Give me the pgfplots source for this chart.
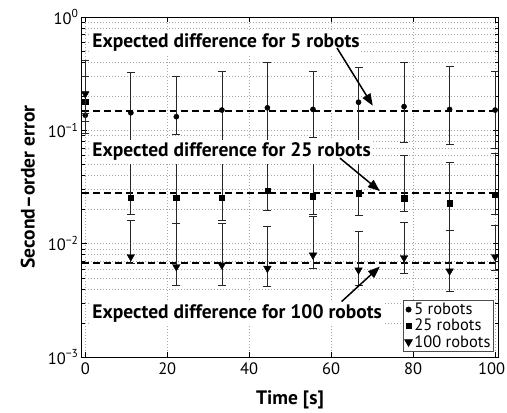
\documentclass[border=0pt]{standalone}
\usepackage{fontspec}
\setmainfont{PT Sans}
\usepackage{pgfplots}
\usepackage{pgfplotstable}
\pgfplotsset{compat=1.18}
\usetikzlibrary{arrows.meta}

\pgfplotstableread{
x y lo hi
0 0.136 0.095 0.297
11.11 0.143 0.065 0.325
22.22 0.132 0.092 0.302
33.33 0.151 0.065 0.334
44.44 0.158 0.065 0.395
55.56 0.153 0.086 0.329
66.67 0.177 0.065 0.357
77.78 0.162 0.078 0.395
88.89 0.153 0.0757 0.364
100 0.151 0.0694 0.334
}\tfive

\pgfplotstableread{
x y lo hi
0 0.180 0.120 0.417
11.11 0.0255 0.0183 0.070
22.22 0.0255 0.0151 0.070
33.33 0.0255 0.0162 0.070
44.44 0.0292 0.0198 0.070
55.56 0.0263 0.0182 0.070
66.67 0.0278 0.0179 0.070
77.78 0.0251 0.0191 0.0605
88.89 0.0227 0.0132 0.0518
100 0.0272 0.0182 0.0627
}\ttwentyfive

\pgfplotstableread{
x y lo hi
0 0.210 0.140 0.300
11.11 0.00767 0.00671 0.0160
22.22 0.00626 0.00426 0.0151
33.33 0.00648 0.00432 0.0151
44.44 0.00606 0.00417 0.0141
55.56 0.00794 0.00606 0.0173
66.67 0.00586 0.00432 0.0129
77.78 0.00752 0.00547 0.0154
88.89 0.00574 0.00382 0.0132
100 0.00767 0.00580 0.0146
}\thundred

\begin{document}
\begin{tikzpicture}
\begin{axis}[name=ax, scale only axis, width=416pt, height=340pt,
  xmin=-0.8, xmax=100.7, ymode=log, ymin=1e-3, ymax=1,
  xtick={0,20,...,100},
  xticklabels={0,20,40,60,80,{\hspace*{-7pt}100}},
  ytick={1e-3,1e-2,1e-1,1},
  yticklabels={10\textsuperscript{−3},10\textsuperscript{−2},10\textsuperscript{−1},10\textsuperscript{0}},
  /pgf/number format/assume math mode=true,
  grid=both,
  major grid style={gray!70, dash pattern=on 0.8pt off 2.2pt, line width=0.5pt},
  minor grid style={gray!70, dash pattern=on 0.8pt off 2.2pt, line width=0.5pt},
  tick align=inside, major tick length=5pt, minor tick length=3pt,
  every tick/.style={black, line width=0.5pt},
  axis line style={black, line width=1pt},
  tick label style={font=\fontsize{16.5}{20}\selectfont},
  xticklabel style={yshift=-2pt},
  label style={font=\fontsize{19.5}{23}\selectfont\bfseries},
  xlabel={Time [s]}, ylabel={Second--order error},
  xlabel style={yshift=-9pt},
  ylabel style={yshift=6pt},
  clip mode=individual,
  legend style={at={(0.99,0.015)}, anchor=south east, font=\fontsize{16.5}{19}\selectfont,
    draw=black!70, line width=0.7pt, inner sep=1pt, row sep=-1pt, legend cell align=left},
  legend image code/.code={\draw[#1] plot coordinates {(0.08cm,0cm)};},
  error bars/error bar style={black!85, line width=0.7pt},
  error bars/error mark options={rotate=90, mark size=4pt, line width=0.7pt, black!85},
]
% expected differences (dashed)
\addplot[forget plot, black, line width=1.7pt, dash pattern=on 7pt off 4pt] coordinates {(-0.8,0.149) (100.7,0.149)};
\addplot[forget plot, black, line width=1.7pt, dash pattern=on 7pt off 4pt] coordinates {(-0.8,0.0278) (100.7,0.0278)};
\addplot[forget plot, black, line width=1.7pt, dash pattern=on 7pt off 4pt] coordinates {(-0.8,0.00679) (100.7,0.00679)};
% series
\addplot[only marks, mark=*, mark size=2.6pt, black,
  error bars/.cd, y dir=both, y explicit]
  table[x=x, y=y, y error plus expr=\thisrow{hi}-\thisrow{y}, y error minus expr=\thisrow{y}-\thisrow{lo}] {\tfive};
\addlegendentry{5 robots}
\addplot[only marks, mark=square*, mark size=2.7pt, black,
  error bars/.cd, y dir=both, y explicit]
  table[x=x, y=y, y error plus expr=\thisrow{hi}-\thisrow{y}, y error minus expr=\thisrow{y}-\thisrow{lo}] {\ttwentyfive};
\addlegendentry{25 robots}
\addplot[only marks, mark=triangle*, mark size=4.4pt, mark options={rotate=180}, black,
  error bars/.cd, y dir=both, y explicit]
  table[x=x, y=y, y error plus expr=\thisrow{hi}-\thisrow{y}, y error minus expr=\thisrow{y}-\thisrow{lo}] {\thundred};
\addlegendentry{100 robots}
% annotations
\node[anchor=west, fill=white, inner xsep=1pt, inner ysep=3pt, font=\fontsize{19.5}{23}\selectfont\bfseries] at (rel axis cs:0.022,0.926) {Expected difference for 5 robots};
\node[anchor=west, fill=white, inner xsep=1pt, inner ysep=3pt, font=\fontsize{19.5}{23}\selectfont\bfseries] at (rel axis cs:0.022,0.604) {Expected difference for 25 robots};
\node[anchor=west, fill=white, inner xsep=1pt, inner ysep=3pt, font=\fontsize{19.5}{23}\selectfont\bfseries] at (rel axis cs:0.022,0.128) {Expected difference for 100 robots};
\draw[line width=1.5pt, -{Triangle[length=12pt,width=9pt]}] (rel axis cs:0.613,0.909) -- (rel axis cs:0.699,0.739);
\draw[line width=1.5pt, -{Triangle[length=12pt,width=9pt]}] (rel axis cs:0.620,0.585) -- (rel axis cs:0.716,0.488);
\draw[line width=1.5pt, -{Triangle[length=12pt,width=9pt]}] (rel axis cs:0.624,0.163) -- (rel axis cs:0.716,0.266);
\end{axis}
\pgfresetboundingbox
\path ([shift={(-82pt,-56pt)}]ax.south west) rectangle ([shift={(9pt,17pt)}]ax.north east);
\end{tikzpicture}
\end{document}
